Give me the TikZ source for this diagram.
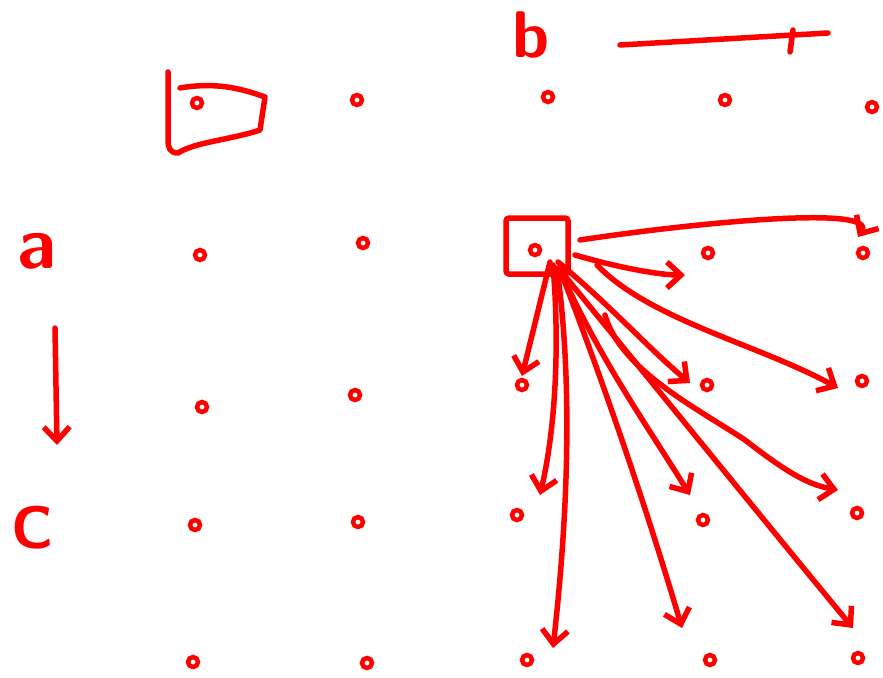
\documentclass[tikz,border=0pt]{standalone}
\usetikzlibrary{arrows.meta,calc}
\begin{document}
\begin{tikzpicture}[x=1pt,y=-1pt,
  ink/.style={red, line width=5.5pt, line cap=round, line join=round},
  dotc/.style={circle, draw=red, line width=4.5pt, minimum size=10pt, inner sep=0pt},
  arr/.style={ink, -{Straight Barb[length=14pt,width=26pt]}},
  lbl/.style={text=red, font=\sffamily, anchor=base, inner sep=0pt},
  boxc/.style={draw=red, line width=5.5pt, rounded corners=3pt, minimum width=62pt, minimum height=56pt, inner sep=0pt}
]
\useasboundingbox (0,0) rectangle (883,677);
% labels
\node[lbl, font=\sffamily\bfseries\fontsize{66}{66}\selectfont] (lb) at (531,58) {b};
\node[lbl, font=\sffamily\bfseries\fontsize{74}{74}\selectfont] (la) at (37,268) {a};
\node[lbl, font=\sffamily\bfseries\fontsize{60}{60}\selectfont] (lc) at (33,548) {C};
% dots
\node[dotc] (r1c1) at (197,103) {};
\node[dotc] (r1c2) at (357,100) {};
\node[dotc] (r1c3) at (548,97) {};
\node[dotc] (r1c4) at (725,100) {};
\node[dotc] (r1c5) at (872,107) {};
\node[dotc] (r2c1) at (200,255) {};
\node[dotc] (r2c2) at (363,243) {};
\node[dotc] (r2c3) at (535,250) {};
\node[dotc] (r2c4) at (708,253) {};
\node[dotc] (r2c5) at (863,253) {};
\node[dotc] (r3c1) at (202,407) {};
\node[dotc] (r3c2) at (355,395) {};
\node[dotc] (r3c3) at (522,385) {};
\node[dotc] (r3c4) at (707,385) {};
\node[dotc] (r3c5) at (862,381) {};
\node[dotc] (r4c1) at (195,525) {};
\node[dotc] (r4c2) at (358,522) {};
\node[dotc] (r4c3) at (517,515) {};
\node[dotc] (r4c4) at (703,520) {};
\node[dotc] (r4c5) at (857,513) {};
\node[dotc] (r5c1) at (193,662) {};
\node[dotc] (r5c2) at (367,663) {};
\node[dotc] (r5c3) at (527,660) {};
\node[dotc] (r5c4) at (710,660) {};
\node[dotc] (r5c5) at (858,658) {};
% box around the selected dot
\node[boxc] (box2) at (537,246) {};
% hand-drawn frame around the first dot
\draw[ink] (180,88) .. controls (215,82) and (240,88) .. (265,97) -- (260,130)
  .. controls (230,140) and (195,142) .. (178,153)
  .. controls (170,153) and (168,148) .. (168,140) -- (168,72);
% line next to b
\coordinate (bl1) at (620,45);
\coordinate (bl2) at (828,33);
\draw[ink] (bl1) -- (bl2);
\draw[ink] (793,30) -- (790,52);
% arrow below a
\coordinate (ad1) at (55,328);
\coordinate (ad2) at (57,445);
\draw[arr] (ad1) -- (ad2);
% arrows from the boxed dot
\draw[arr] ($(box2.center)+(43,-6)$) .. controls (700,222) and (878,205) .. ($(r2c5)+(-5,-16)$);
\draw[arr] ($(box2.center)+(38,9)$) .. controls (620,268) and (660,275) .. ($(r2c4)+(-23,22)$);
\draw[arr] ($(box2.center)+(60,19)$) .. controls (650,320) and (760,345) .. ($(r3c5)+(-24,7)$);
\draw[arr] ($(box2.center)+(13,16)$) -- ($(r3c3)+(0,-9)$);
\draw[arr] ($(box2.center)+(16,19)$) .. controls (560,350) and (555,430) .. ($(r4c3)+(23,-20)$);
\draw[arr] ($(box2.center)+(20,22)$) .. controls (575,400) and (565,540) .. ($(r5c3)+(26,-12)$);
\draw[arr] ($(box2.center)+(25,29)$) .. controls (610,400) and (650,520) .. ($(r5c4)+(-28,-32)$);
\draw[arr] ($(box2.center)+(23,24)$) .. controls (600,360) and (650,430) .. ($(r4c4)+(-13,-25)$);
\draw[arr] ($(box2.center)+(21,16)$) .. controls (610,305) and (650,350) .. ($(r3c4)+(-17,-2)$);
\draw[arr] ($(box2.center)+(68,69)$) .. controls (620,370) and (700,410) .. (745,440)
  .. controls (790,475) and (810,485) .. ($(r4c5)+(-19,-23)$);
\draw[arr] ($(box2.center)+(23,24)$) .. controls (650,380) and (780,540) .. ($(r5c5)+(-5,-30)$);
\end{tikzpicture}
\end{document}
